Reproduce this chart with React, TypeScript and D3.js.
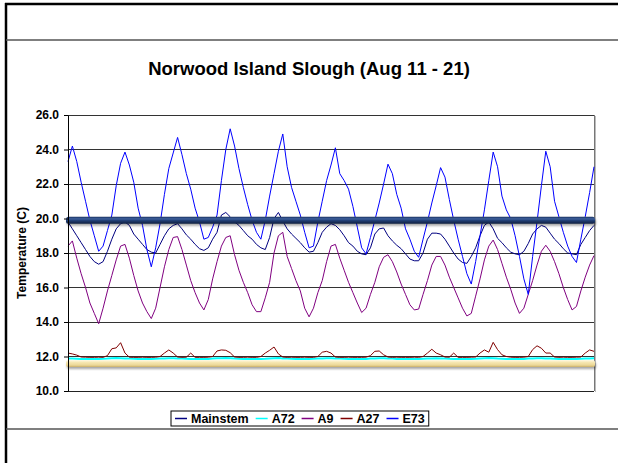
import { useRef, useEffect } from 'react';
import * as d3 from 'd3';

const WIDTH = 618;
const HEIGHT = 463;
const PLOT = { left: 68, right: 594, top: 115, bottom: 391 };
const FONT = '"Liberation Sans", Arial, Helvetica, sans-serif';

const TITLE = 'Norwood Island Slough (Aug 11 - 21)';
const Y_LABEL = 'Temperature (C)';
const Y_TICKS = [10, 12, 14, 16, 18, 20, 22, 24, 26];

// readings every 2 hours over the 10 days (hour 0 .. 240)
const HOURS = d3.range(0, 241, 2);

const mainstem = [
  19.8, 19.4, 19.0, 18.6, 18.2, 17.8, 17.5, 17.35, 17.5, 18.1, 18.8, 19.4,
  19.7, 19.8, 19.6, 19.1, 18.8, 18.5, 18.2, 18.05, 18.0, 18.5, 19.0, 19.4,
  19.6, 19.7, 19.4, 19.05, 18.8, 18.5, 18.25, 18.15, 18.3, 18.8, 19.2, 20.2,
  20.35, 20.1, 19.8, 19.6, 19.3, 19.0, 18.8, 18.5, 18.3, 18.2, 18.9, 20.0,
  20.35, 19.85, 19.4, 19.1, 18.85, 18.6, 18.3, 18.05, 18.1, 18.6, 19.2, 19.5,
  19.7, 19.6, 19.35, 19.0, 18.6, 18.4, 18.1, 17.95, 17.9, 18.3, 19.1, 19.4,
  19.45, 19.0, 18.7, 18.45, 18.25, 17.95, 17.65, 17.55, 17.55, 18.0, 18.8, 19.15,
  19.15, 19.1, 18.8, 18.4, 18.0, 17.65, 17.45, 17.4, 17.8, 18.3, 19.0, 19.6,
  19.8, 19.4, 18.85, 18.6, 18.3, 18.05, 17.95, 17.9, 18.1, 18.55, 19.1, 19.4,
  19.6, 19.5, 19.15, 18.8, 18.55, 18.25, 18.0, 17.95, 17.9, 18.5, 18.9, 19.3, 19.6,
];

const a72 = [
  11.89, 11.88, 11.87, 11.86, 11.86, 11.85, 11.85, 11.86, 11.87, 11.88, 11.9, 11.91,
  11.9, 11.89, 11.88, 11.87, 11.86, 11.86, 11.85, 11.86, 11.87, 11.88, 11.89, 11.9,
  11.9, 11.89, 11.88, 11.87, 11.86, 11.85, 11.85, 11.86, 11.86, 11.88, 11.9, 11.9,
  11.91, 11.9, 11.88, 11.87, 11.86, 11.86, 11.85, 11.85, 11.86, 11.87, 11.89, 11.9,
  11.91, 11.89, 11.88, 11.87, 11.86, 11.85, 11.85, 11.86, 11.87, 11.88, 11.89, 11.9,
  11.9, 11.89, 11.88, 11.87, 11.86, 11.86, 11.85, 11.86, 11.86, 11.88, 11.89, 11.9,
  11.9, 11.89, 11.88, 11.86, 11.86, 11.85, 11.85, 11.85, 11.86, 11.87, 11.88, 11.89,
  11.9, 11.89, 11.88, 11.87, 11.86, 11.85, 11.85, 11.85, 11.86, 11.87, 11.89, 11.9,
  11.91, 11.9, 11.88, 11.87, 11.86, 11.86, 11.85, 11.85, 11.86, 11.88, 11.89, 11.9,
  11.9, 11.89, 11.88, 11.87, 11.86, 11.86, 11.85, 11.85, 11.86, 11.87, 11.88, 11.89, 11.9,
];

const a9 = [
  18.4, 18.7, 17.7, 16.8, 16.0, 15.1, 14.5, 13.9, 14.8, 15.8, 16.7, 17.6,
  18.4, 18.5, 17.7, 16.7, 15.8, 15.1, 14.6, 14.2, 14.8, 16.0, 17.2, 18.2,
  18.9, 18.95, 18.2, 17.3, 16.4, 15.7, 15.1, 14.7, 15.3, 16.5, 17.5, 18.4,
  18.9, 19.0, 17.9, 17.0, 16.3, 15.7, 15.0, 14.6, 14.6, 15.4, 16.3, 18.0,
  19.0, 19.2, 17.8, 17.1, 16.4, 15.8, 14.8, 14.3, 14.8, 15.7, 16.4, 17.5,
  18.4, 18.5, 17.7, 17.0, 16.3, 15.7, 15.1, 14.55, 14.8, 15.6, 16.3, 17.2,
  17.75, 17.9, 17.5, 16.9, 16.2, 15.6, 15.0, 14.7, 14.75, 15.6, 16.4, 17.3,
  17.8, 17.8, 17.3, 16.6, 16.0, 15.4, 14.8, 14.35, 14.5, 15.5, 16.5, 17.6,
  18.4, 18.75, 18.2, 17.4, 16.6, 15.9, 15.1, 14.5, 14.8, 15.6, 16.4, 17.3,
  18.1, 18.45, 18.1, 17.5, 16.8, 16.0, 15.3, 14.7, 14.9, 15.8, 16.6, 17.3, 17.85,
];

const a27 = [
  12.2, 12.15, 12.08, 11.97, 11.96, 11.95, 11.95, 11.96, 11.95, 12.05, 12.45, 12.5,
  12.8, 12.2, 11.96, 11.95, 11.95, 11.96, 11.95, 11.95, 11.96, 12.0, 12.2, 12.38,
  12.2, 11.97, 11.95, 11.96, 12.2, 11.95, 11.95, 11.95, 11.96, 12.0, 12.32, 12.38,
  12.36, 12.22, 11.97, 11.95, 11.95, 11.96, 11.95, 11.95, 12.0, 12.2, 12.36, 12.55,
  12.15, 11.97, 11.95, 11.96, 11.95, 11.95, 11.96, 11.95, 11.95, 12.0, 12.25, 12.3,
  12.2, 11.97, 11.95, 11.95, 11.96, 11.95, 11.95, 11.95, 11.96, 12.05, 12.3, 12.32,
  12.1, 11.97, 11.95, 11.96, 11.95, 11.95, 11.95, 11.96, 11.95, 12.0, 12.2, 12.42,
  12.2, 12.1, 11.97, 11.96, 12.2, 11.95, 11.95, 11.95, 11.96, 11.97, 12.2, 12.38,
  12.25, 12.82, 12.4, 12.1, 12.0, 11.96, 11.95, 11.95, 11.96, 12.0, 12.4, 12.62,
  12.48, 12.2, 12.2, 11.97, 11.95, 11.96, 11.95, 11.95, 11.96, 11.97, 12.2, 12.38, 12.3,
];

const e73 = [
  23.3, 24.2, 23.3, 22.1, 21.0, 19.9, 19.0, 18.1, 18.4, 19.3, 20.2, 21.9,
  23.2, 23.85, 23.1, 22.1, 20.6, 19.6, 18.2, 17.2, 18.3, 19.7, 21.4, 22.9,
  23.8, 24.7, 23.7, 22.6, 21.7, 20.6, 19.8, 18.8, 18.9, 19.5, 20.2, 22.2,
  24.0, 25.2, 24.2, 22.9, 21.8, 20.8, 19.9, 19.2, 18.8, 19.9, 21.3, 22.6,
  23.9, 24.9, 23.0, 21.8, 21.0, 20.2, 19.2, 18.3, 18.4, 19.8, 21.0, 22.2,
  23.1, 24.1, 22.6, 22.2, 21.7, 20.7, 19.5, 18.3, 17.95, 18.9, 19.9, 20.9,
  22.0, 23.15, 22.6, 21.4, 20.6, 19.4, 18.8, 18.1, 17.75, 18.8, 19.8, 20.9,
  21.9, 22.95, 22.4, 21.1, 19.9, 18.8, 17.8, 16.8, 16.2, 17.5, 19.0, 20.5,
  22.2, 23.85, 23.0, 21.3, 20.5, 20.0, 19.0, 17.8, 16.5, 15.6, 17.8, 19.8,
  21.9, 23.9, 23.0, 21.0, 20.1, 19.2, 18.4, 17.8, 17.45, 18.8, 20.1, 21.5, 23.0,
];

const SERIES = [
  { name: 'Mainstem', color: '#000080', values: mainstem },
  { name: 'A72', color: '#00ffff', values: a72 },
  { name: 'A9', color: '#800080', values: a9 },
  { name: 'A27', color: '#800000', values: a27 },
  { name: 'E73', color: '#0000ff', values: e73 },
];

// the two highlighted reference bars laid over the chart (deg C)
const NAVY_BAND = 19.9;
const SAND_BAND = 11.6;

export default function App() {
  const svgRef = useRef<SVGSVGElement>(null);

  useEffect(() => {
    const svg = d3.select(svgRef.current);
    svg.selectAll('*').remove();

    const x = d3.scaleLinear().domain([0, 240]).range([PLOT.left, PLOT.right]);
    const y = d3.scaleLinear().domain([10, 26]).range([PLOT.bottom, PLOT.top]);

    svg.append('rect').attr('width', WIDTH).attr('height', HEIGHT).attr('fill', '#fff');

    const defs = svg.append('defs');
    const grad = (id: string, stops: [number, string][]) => {
      const g = defs.append('linearGradient').attr('id', id)
        .attr('x1', 0).attr('y1', 0).attr('x2', 0).attr('y2', 1);
      stops.forEach(([o, c]) => g.append('stop').attr('offset', o).attr('stop-color', c));
    };
    grad('navyGrad', [[0, '#1a3260'], [0.3, '#3e5f9c'], [0.55, '#223f75'], [1, '#0c1c3c']]);
    grad('sandGrad', [[0, '#fffbe8'], [0.35, '#f6e7b2'], [0.75, '#ecd796'], [1, '#c9b06a']]);
    const f = defs.append('filter').attr('id', 'shadow')
      .attr('x', '-5%').attr('y', '-100%').attr('width', '110%').attr('height', '400%');
    f.append('feDropShadow').attr('dx', 1).attr('dy', 2).attr('stdDeviation', 1)
      .attr('flood-color', '#000').attr('flood-opacity', 0.35);

    // page frame
    svg.append('line').attr('x1', 6).attr('x2', 6).attr('y1', 3).attr('y2', HEIGHT)
      .attr('stroke', '#000').attr('stroke-width', 2.5);
    svg.append('line').attr('x1', 5).attr('x2', WIDTH).attr('y1', 4).attr('y2', 4)
      .attr('stroke', '#000').attr('stroke-width', 2.5);
    [40, 429].forEach(yy => {
      svg.append('line').attr('x1', 6).attr('x2', WIDTH).attr('y1', yy).attr('y2', yy)
        .attr('stroke', '#555').attr('stroke-width', 1.5);
    });

    svg.append('text').attr('x', 309).attr('y', 75)
      .attr('text-anchor', 'middle').attr('font-family', FONT)
      .attr('font-size', 18.5).attr('font-weight', 'bold').text(TITLE);

    // gridlines
    const grid = svg.append('g');
    Y_TICKS.filter(v => v > 10).forEach(v => {
      grid.append('line').attr('x1', PLOT.left).attr('x2', PLOT.right)
        .attr('y1', y(v)).attr('y2', y(v))
        .attr('stroke', '#333').attr('shape-rendering', 'crispEdges');
    });

    // plot area border (right) with a little shadow
    svg.append('line').attr('x1', PLOT.right).attr('x2', PLOT.right)
      .attr('y1', PLOT.top).attr('y2', PLOT.bottom)
      .attr('stroke', '#777').attr('shape-rendering', 'crispEdges');
    svg.append('line').attr('x1', PLOT.right + 1).attr('x2', PLOT.right + 1)
      .attr('y1', PLOT.top + 1).attr('y2', PLOT.bottom + 1)
      .attr('stroke', '#bbb').attr('shape-rendering', 'crispEdges');
    svg.append('line').attr('x1', PLOT.left).attr('x2', PLOT.right)
      .attr('y1', PLOT.bottom).attr('y2', PLOT.bottom)
      .attr('stroke', '#222').attr('shape-rendering', 'crispEdges');

    // series
    const line = d3.line<number>()
      .x((_, i) => x(HOURS[i]))
      .y(d => y(d));
    SERIES.forEach(s => {
      svg.append('path').datum(s.values)
        .attr('d', line)
        .attr('fill', 'none')
        .attr('stroke', s.color)
        .attr('stroke-width', s.name === 'A72' ? 2 : 1)
        .attr('stroke-linejoin', 'round');
    });

    // reference bars
    const band = (v: number, fill: string) => {
      svg.append('rect')
        .attr('x', PLOT.left - 2).attr('width', PLOT.right - PLOT.left + 3)
        .attr('y', y(v) - 3.5).attr('height', 7).attr('rx', 2.5)
        .attr('fill', fill).attr('filter', 'url(#shadow)');
    };
    band(NAVY_BAND, 'url(#navyGrad)');
    band(SAND_BAND, 'url(#sandGrad)');

    // y axis
    const axis = svg.append('g').attr('transform', `translate(${PLOT.left},0)`)
      .call(d3.axisLeft(y).tickValues(Y_TICKS).tickFormat(d3.format('.1f'))
        .tickSizeInner(4).tickSizeOuter(0).tickPadding(5));
    axis.select('.domain').attr('stroke', '#000');
    axis.selectAll('.tick line').attr('stroke', '#000');
    axis.selectAll('.tick text').attr('font-family', FONT)
      .attr('font-size', 12).attr('font-weight', 'bold').attr('fill', '#000');

    svg.append('text').attr('transform', 'rotate(-90)')
      .attr('x', -253).attr('y', 26)
      .attr('text-anchor', 'middle').attr('font-family', FONT)
      .attr('font-size', 12).attr('font-weight', 'bold').text(Y_LABEL);

    // legend
    const legend = svg.append('g');
    const box = legend.append('rect').attr('x', 171).attr('y', 411).attr('height', 15)
      .attr('fill', '#fff').attr('stroke', '#000');
    let cx = 175;
    SERIES.forEach(s => {
      legend.append('line').attr('x1', cx).attr('x2', cx + 12)
        .attr('y1', 418.5).attr('y2', 418.5).attr('stroke', s.color).attr('stroke-width', 1.5);
      const t = legend.append('text').attr('x', cx + 16).attr('y', 422.5)
        .attr('font-family', FONT).attr('font-size', 12.5).attr('font-weight', 'bold')
        .text(s.name);
      const w = (t.node() as SVGTextElement).getComputedTextLength();
      cx += 16 + w + 7;
    });
    box.attr('width', cx - 7 + 4 - 171);
  }, []);

  return (
    <svg ref={svgRef} width={WIDTH} height={HEIGHT}
      style={{ position: 'absolute', left: 0, top: 0 }} />
  );
}
